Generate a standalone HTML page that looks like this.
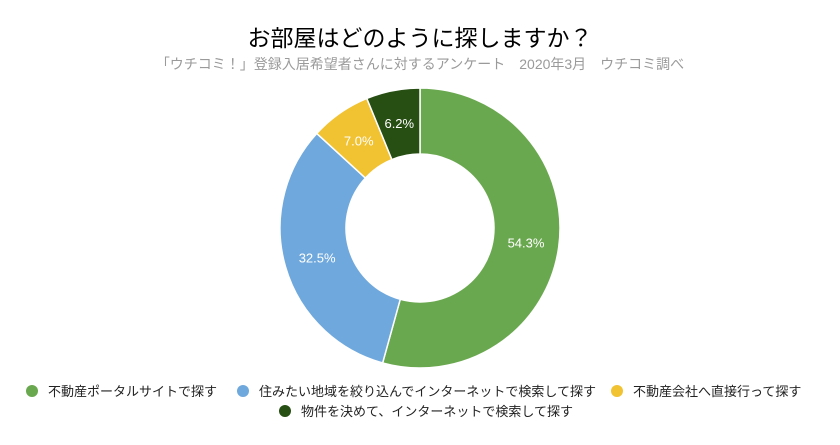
<!DOCTYPE html>
<html><head><meta charset="utf-8"><style>
body{margin:0;background:#fff;width:840px;height:440px;overflow:hidden;font-family:"Liberation Sans","Noto Sans CJK JP",sans-serif}
</style></head><body>
<svg width="840" height="440" id="chart">
<text x="420" y="46" text-anchor="middle" font-size="23" fill="#000">お部屋はどのように探しますか？</text>
<text x="420" y="69" text-anchor="middle" font-size="14" fill="#9a9a9a">「ウチコミ！」登録入居希望者さんに対するアンケート　2020年3月　ウチコミ調べ</text>
<g id="slices"></g>
<g id="legend" font-size="13" fill="#222"></g>
</svg>
<script>
const categories=["不動産ポータルサイトで探す","住みたい地域を絞り込んでインターネットで検索して探す","不動産会社へ直接行って探す","物件を決めて、インターネットで検索して探す"];
const values=[54.3,32.5,7.0,6.2];
const colors=["#6aa84f","#6fa8dc","#f1c232","#274e13"];
const NS="http://www.w3.org/2000/svg";
const cx=420,cy=228,R=140,r=74;
const g=document.getElementById('slices');
const total=values.reduce((a,b)=>a+b,0);
let a0=0;
function pt(a,rad){return [cx+rad*Math.sin(a),cy-rad*Math.cos(a)];}
values.forEach((v,i)=>{
 const a1=a0+v/total*2*Math.PI;
 const lg=(a1-a0)>Math.PI?1:0;
 const [x0,y0]=pt(a0,R),[x1,y1]=pt(a1,R),[x2,y2]=pt(a1,r),[x3,y3]=pt(a0,r);
 const p=document.createElementNS(NS,'path');
 p.setAttribute('d',`M${x0},${y0}A${R},${R} 0 ${lg} 1 ${x1},${y1}L${x2},${y2}A${r},${r} 0 ${lg} 0 ${x3},${y3}Z`);
 p.setAttribute('fill',colors[i]);p.setAttribute('stroke','#fff');p.setAttribute('stroke-width','1.5');
 
 
 g.appendChild(p);
 const [lx,ly]=pt((a0+a1)/2,(R+r)/2);
 const t=document.createElementNS(NS,'text');
 t.setAttribute('x',lx);t.setAttribute('y',ly+5);t.setAttribute('text-anchor','middle');
 t.setAttribute('font-size','13');t.setAttribute('fill','#fff');
 t.textContent=v.toFixed(1)+'%';
 
 
 g.appendChild(t);
 a0=a1;
});
const lg=document.getElementById('legend');
const lpos=[[32,391],[243,391],[617,391],[285,411]];
categories.forEach((c,i)=>{
 const e=document.createElementNS(NS,'g');
 
 
 const ci=document.createElementNS(NS,'circle');
 ci.setAttribute('cx',lpos[i][0]);ci.setAttribute('cy',lpos[i][1]);ci.setAttribute('r','6');ci.setAttribute('fill',colors[i]);
 e.appendChild(ci);
 const t=document.createElementNS(NS,'text');
 t.setAttribute('x',lpos[i][0]+16);t.setAttribute('y',lpos[i][1]+5);t.textContent=c;
 e.appendChild(t);
 lg.appendChild(e);
});
</script>
</body></html>
